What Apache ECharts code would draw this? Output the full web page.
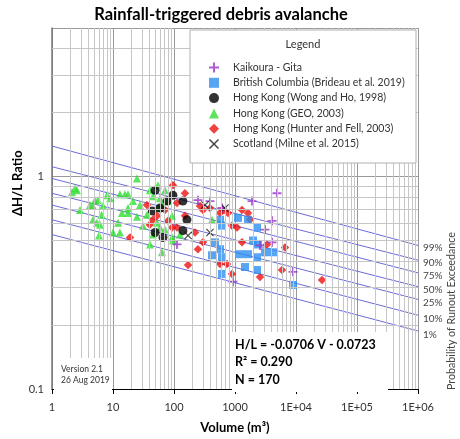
<!DOCTYPE html>
<html><head><meta charset="utf-8">
<script src="https://cdn.jsdelivr.net/npm/echarts@6/dist/echarts.min.js"></script>
<style>html,body{margin:0;padding:0;background:#fff}#c{width:460px;height:439px}</style>
</head><body><div id="c"></div>
<script>
// ---- data (Volume m3, ΔH/L ratio) ----
const kaikouraGita = [[247,0.774],[389,0.766],[612,0.711],[1900,0.766],[4880,0.834],[4045,0.619],[3103,0.563],[2570,0.474],[4045,0.490],[8930,0.356],[927,0.320],[112,0.479]];
const britishColumbia = [[568,0.626],[612,0.587],[1120,0.639],[1635,0.626],[2295,0.575],[470,0.490],[568,0.455],[420,0.426],[612,0.417],[1208,0.431],[1635,0.431],[1973,0.500],[2383,0.479],[3103,0.440],[4198,0.440],[2295,0.417],[1460,0.375],[2295,0.363],[612,0.348],[8930,0.309]];
const hkWongHo = [[49,0.861],[96,0.817],[140,0.766],[77,0.766],[44,0.689],[49,0.545],[66,0.516],[140,0.556],[163,0.626],[59,0.711]];
const hkGEO = [[2.38,0.880],[2.13,0.843],[2.57,0.861],[24.7,0.979],[40.4,0.861],[54.7,0.909],[71.2,0.861],[7.97,0.817],[8.93,0.791],[13.0,0.825],[15.7,0.825],[17.6,0.825],[45.3,0.808],[5.07,0.774],[5.68,0.774],[4.20,0.734],[4.70,0.726],[6.86,0.726],[21.3,0.766],[27.7,0.734],[17.6,0.711],[2.88,0.696],[14.0,0.674],[17.6,0.674],[4.70,0.626],[5.47,0.606],[6.12,0.593],[24.7,0.646],[12.1,0.606],[31.0,0.587],[63.5,0.734],[92.7,0.653],[58.9,0.575],[71.2,0.563],[10,0.545],[13.0,0.545],[5.89,0.528],[40.4,0.479],[63.5,0.440],[96.3,0.500],[125,0.533],[420,0.626],[58.9,0.791],[54.7,0.711],[45.3,0.533],[79.7,0.766],[36.1,0.660],[52.6,0.606],[92.7,0.516],[6.5,0.660]];
const hkHunterFell = [[96,0.909],[151,0.834],[112,0.750],[36,0.734],[71,0.696],[53,0.653],[45,0.626],[40,0.593],[80,0.619],[93,0.575],[112,0.575],[151,0.653],[221,0.545],[299,0.490],[247,0.455],[170,0.383],[19,0.516],[267,0.726],[299,0.696],[389,0.711],[568,0.674],[767,0.674],[893,0.587],[1078,0.575],[568,0.387],[739,0.387],[893,0.348],[635,0.696],[1303,0.696],[1635,0.674],[1762,0.626],[1303,0.490],[3347,0.479],[6600,0.464],[5900,0.363],[2570,0.337],[26700,0.326]];
const scotland = [[322,0.734],[685,0.711],[389,0.545],[170,0.528]];

// probability lines: value at V=1 and V=1e6
const probLabels = ['99%','90%','75%','50%','25%','10%','1%'];
const probAtV1   = [1.391,1.112,0.979,0.834,0.734,0.626,0.533];
const probAtV1e6 = [0.474,0.404,0.352,0.303,0.264,0.2225,0.1875];

const xTickLabels = ['1','10','100','1000','1E+04','1E+05','1E+06'];
const yTickLabels = {'-1':'0.1','0':'1'};

const minorX = [];
for (let d = 1; d < 1e6; d *= 10) for (let k = 2; k <= 9; k++) minorX.push(k*d);
const minorY = [0.2,0.3,0.4,0.5,0.6,0.7,0.8,0.9,2,3,4];

const FONT = 'Lato';
const chart = echarts.init(document.getElementById('c'), null, {renderer:'canvas'});

const plus = 'path://M4,0H6V4H10V6H6V10H4V6H0V4H4Z';
const cross = 'path://M1,0L5,4L9,0L10,1L6,5L10,9L9,10L5,6L1,10L0,9L4,5L0,1Z';

const gridSeries = {
  type:'line', data:[[1,0.1]], showSymbol:false, silent:true, lineStyle:{opacity:0}, legendHoverLink:false,
  markLine:{
    silent:true, symbol:['none','none'], label:{show:false}, animation:false,
    lineStyle:{color:'#c6c6c6', type:'solid', width:1},
    data: minorX.map(v=>({xAxis:v})).concat(minorY.map(v=>({yAxis:v})))
  }
};

const probSeries = probLabels.map((lab,i)=>({
  type:'line', name:'p'+lab, silent:true, showSymbol:false, symbol:'none',
  data:[[1,probAtV1[i]],[1e6,probAtV1e6[i]]],
  lineStyle:{color:'#6b6bd8', width:1},
  endLabel:{show:true, formatter:lab, distance:5, offset:[0,2+i*0.3], color:'#444', fontSize:10, fontFamily:FONT}
}));

function sc(name, data, symbol, size, color, extra){
  return Object.assign({type:'scatter', name, data, symbol, symbolSize:size, itemStyle:{color}, z:3}, extra||{});
}

const option = {
  animation:false,
  grid:{left:52, right:42, top:28, bottom:45},
  xAxis:{
    type:'log', logBase:10, min:1, max:1e6,
    axisLine:{lineStyle:{color:'#000', width:1}},
    axisTick:{show:true, length:5, lineStyle:{color:'#000'}},
    axisLabel:{color:'#333', fontSize:11, fontFamily:FONT, margin:13,
      formatter:v=>{const e=Math.round(Math.log10(v)); return xTickLabels[e]||'';}},
    splitLine:{show:true, lineStyle:{color:'#999'}},
    name:'Volume (m³)', nameLocation:'middle', nameGap:32,
    nameTextStyle:{fontSize:13, fontWeight:'bold', color:'#000', fontFamily:FONT}
  },
  yAxis:{
    type:'log', logBase:10, min:0.1, max:5,
    axisLine:{show:true, lineStyle:{color:'#777', width:1.5}},
    axisTick:{show:false},
    axisLabel:{color:'#333', fontSize:11, fontFamily:FONT, margin:8,
      formatter:v=>{const l=Math.log10(v); if(Math.abs(l-Math.round(l))>1e-6) return ''; return yTickLabels[String(Math.round(l))]||'';}},
    splitLine:{show:true, lineStyle:{color:'#999'}}
  },
  legend:{
    orient:'vertical', left:204, top:57, itemGap:4.3, itemWidth:10, itemHeight:10, z:60,
    textStyle:{fontSize:10.5, color:'#333', fontFamily:FONT, padding:[0,0,0,9]},
    data:['Kaikoura - Gita','British Columbia (Brideau et al. 2019)','Hong Kong (Wong and Ho, 1998)','Hong Kong (GEO, 2003)','Hong Kong (Hunter and Fell, 2003)','Scotland (Milne et al. 2015)']
  },
  graphic:[
    {type:'text', z:60, style:{x:221, y:6, text:'Rainfall-triggered debris avalanche', font:'bold 16.5px '+FONT, fill:'#000', textAlign:'center'}},
    {type:'rect', z:50, shape:{x:190, y:30, width:226, height:133}, style:{fill:'#fff', stroke:'#b0b0b0', lineWidth:1}},
    {type:'text', z:60, style:{x:303, y:39, text:'Legend', font:'11px '+FONT, fill:'#333', textAlign:'center'}},
    {type:'rect', z:50, shape:{x:54, y:358, width:58, height:34}, style:{fill:'#fff'}},
    {type:'text', z:60, style:{x:61, y:364, text:'Version 2.1\n26 Aug 2019', font:'8.5px '+FONT, fill:'#333', lineHeight:11}},
    {type:'rect', z:50, shape:{x:232, y:332, width:156, height:60}, style:{fill:'#fff'}},
    {type:'text', z:60, style:{x:235, y:336, text:'H/L = -0.0706 V - 0.0723\nR² = 0.290\nN = 170', font:'bold 12.5px '+FONT, fill:'#000', lineHeight:17.5}},
    {type:'text', z:60, x:452, y:390, rotation:Math.PI/2, style:{text:'Probability of Runout Exceedance', font:'10.7px '+FONT, fill:'#444', textVerticalAlign:'middle'}},
    {type:'text', z:60, x:18, y:216, rotation:Math.PI/2, style:{text:'ΔH/L Ratio', font:'bold 13px '+FONT, fill:'#000', textVerticalAlign:'middle'}}
  ],
  series:[gridSeries].concat(probSeries).concat([
    sc('Hong Kong (GEO, 2003)', hkGEO, 'triangle', 8, '#33dd33'),
    sc('Hong Kong (Hunter and Fell, 2003)', hkHunterFell, 'diamond', 8.5, '#ee1111'),
    sc('Hong Kong (Wong and Ho, 1998)', hkWongHo, 'circle', 9, '#000'),
    sc('British Columbia (Brideau et al. 2019)', britishColumbia, 'rect', 8, '#2e8ff0'),
    sc('Kaikoura - Gita', kaikouraGita, plus, 9, '#9933cc'),
    sc('Scotland (Milne et al. 2015)', scotland, cross, 8, '#111')
  ])
};
chart.setOption(option);
</script></body></html>
